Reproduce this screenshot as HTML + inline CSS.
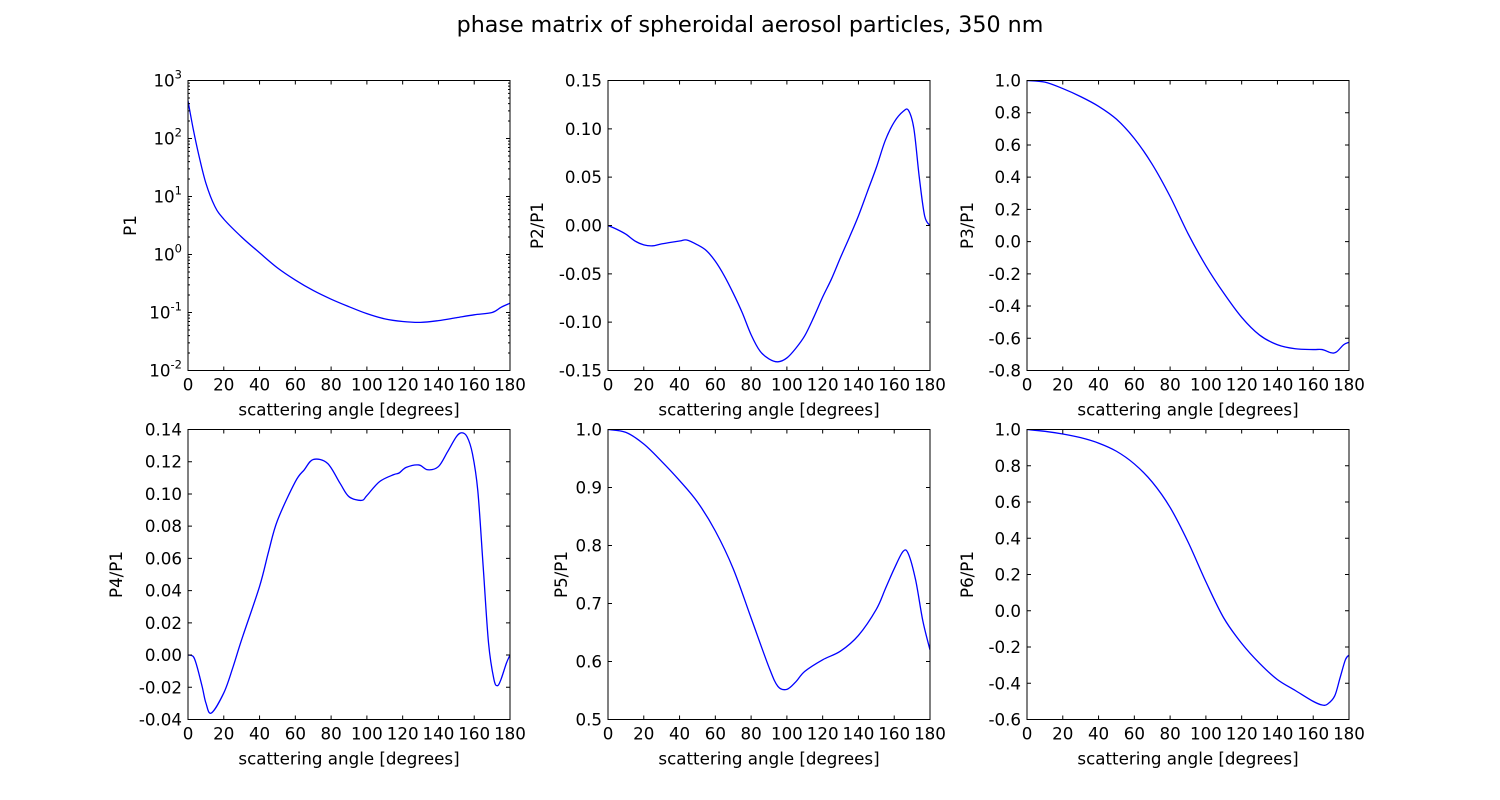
<!DOCTYPE html>
<html><head><meta charset="utf-8"><style>
body{margin:0;background:#fff;}
svg{display:block;font-family:"DejaVu Sans","Liberation Sans",sans-serif;}
</style></head><body>
<svg id="fig" width="1500" height="800" viewBox="0 0 1500 800">
<rect width="1500" height="800" fill="#fff"/>
<text x="750" y="32" text-anchor="middle" font-size="22.2" fill="#000">phase matrix of spheroidal aerosol particles, 350 nm</text>
</svg>
<script>
const angles1 = [0,3,6,10,15,20,30,40,50,60,70,80,90,100,110,120,130,140,150,160,170,175,180];
const p1Log = [2.65,2.15,1.72,1.23,0.83,0.61,0.30,0.03,-0.23,-0.44,-0.62,-0.77,-0.90,-1.02,-1.11,-1.155,-1.17,-1.14,-1.09,-1.04,-1.0,-0.91,-0.84];
const angles2 = [0,5,10,15,20,25,30,40,44,50,55,60,65,70,75,80,85,90,95,100,105,110,115,120,125,130,135,140,145,150,155,160,165,168,171,174,177,180];
const p2 = [0,-0.004,-0.009,-0.016,-0.020,-0.021,-0.019,-0.016,-0.015,-0.020,-0.026,-0.037,-0.052,-0.070,-0.090,-0.113,-0.130,-0.138,-0.141,-0.137,-0.127,-0.114,-0.095,-0.074,-0.055,-0.033,-0.012,0.010,0.035,0.060,0.088,0.107,0.118,0.119,0.100,0.050,0.010,0];
const angles3 = [0,10,20,30,40,50,60,70,80,90,100,110,120,130,140,150,160,165,170,173,177,180];
const p3 = [1.0,0.99,0.95,0.90,0.84,0.76,0.64,0.48,0.28,0.05,-0.15,-0.32,-0.47,-0.58,-0.64,-0.665,-0.67,-0.67,-0.69,-0.685,-0.64,-0.625];
const angles4 = [0,3,5,8,10,13,20,25,30,40,45,50,60,65,70,78,85,90,97,100,107,115,118,122,129,134,140,145,150,153,156,159,162,165,168,171,173,175,178,180];
const p4 = [0,-0.001,-0.007,-0.02,-0.0297,-0.036,-0.0235,-0.008,0.0096,0.0426,0.064,0.0835,0.1076,0.115,0.1214,0.119,0.1066,0.0983,0.096,0.099,0.1076,0.112,0.113,0.1165,0.118,0.115,0.117,0.126,0.1355,0.138,0.1355,0.125,0.102,0.055,0.0075,-0.015,-0.019,-0.015,-0.005,0];
const angles5 = [0,10,20,30,40,50,60,70,80,90,95,100,105,110,120,130,140,150,155,160,165,168,172,176,180];
const p5 = [1.0,0.995,0.975,0.945,0.912,0.875,0.825,0.76,0.675,0.59,0.557,0.552,0.565,0.583,0.603,0.618,0.645,0.69,0.725,0.76,0.79,0.785,0.74,0.67,0.62];
const angles6 = [0,10,20,30,40,50,60,70,80,90,100,110,120,130,140,150,160,165,168,172,175,178,180];
const p6 = [1.0,0.99,0.975,0.955,0.925,0.88,0.81,0.71,0.57,0.38,0.16,-0.04,-0.18,-0.29,-0.38,-0.44,-0.50,-0.52,-0.515,-0.47,-0.37,-0.27,-0.245];
const xTicks = [0,20,40,60,80,100,120,140,160,180];
const p1TickExp = [-2,-1,0,1,2,3];
const p2Ticks = [-0.15,-0.10,-0.05,0.00,0.05,0.10,0.15];
const p3Ticks = [-0.8,-0.6,-0.4,-0.2,0.0,0.2,0.4,0.6,0.8,1.0];
const p4Ticks = [-0.04,-0.02,0.00,0.02,0.04,0.06,0.08,0.10,0.12,0.14];
const p5Ticks = [0.5,0.6,0.7,0.8,0.9,1.0];
const p6Ticks = [-0.6,-0.4,-0.2,0.0,0.2,0.4,0.6,0.8,1.0];

const NS = "http://www.w3.org/2000/svg";
const svg = document.getElementById('fig');
function mk(tag, attrs, parent){const e=document.createElementNS(NS,tag);for(const k in attrs)e.setAttribute(k,attrs[k]);(parent||svg).appendChild(e);return e;}

const panels = [
 {key:'p1', label:'P1', x0:188, y0:80.5, xs:angles1, ys:p1Log, ymin:-2, ymax:3, ticks:p1TickExp, log:true, labx:136},
 {key:'p2', label:'P2/P1', x0:608, y0:80.5, xs:angles2, ys:p2, ymin:-0.15, ymax:0.15, ticks:p2Ticks, dec:2, labx:543},
 {key:'p3', label:'P3/P1', x0:1027, y0:80.5, xs:angles3, ys:p3, ymin:-0.8, ymax:1.0, ticks:p3Ticks, dec:1, labx:973},
 {key:'p4', label:'P4/P1', x0:188, y0:429.5, xs:angles4, ys:p4, ymin:-0.04, ymax:0.14, ticks:p4Ticks, dec:2, labx:122},
 {key:'p5', label:'P5/P1', x0:608, y0:429.5, xs:angles5, ys:p5, ymin:0.5, ymax:1.0, ticks:p5Ticks, dec:1, labx:567},
 {key:'p6', label:'P6/P1', x0:1027, y0:429.5, xs:angles6, ys:p6, ymin:-0.6, ymax:1.0, ticks:p6Ticks, dec:1, labx:973},
];
const W=322, H=290, FS=16.7;

panels.forEach(p=>{
  const g = mk('g',{});
  
  
  const sx = v => p.x0 + v/180*W;
  const sy = v => p.y0 + H - (v-p.ymin)/(p.ymax-p.ymin)*H;
  const pts = p.xs.map((x,i)=>[sx(x), sy(p.ys[i])]);
  let d = 'M'+pts[0][0].toFixed(2)+','+pts[0][1].toFixed(2);
  for(let i=0;i<pts.length-1;i++){
    const a=pts[Math.max(0,i-1)], b=pts[i], c=pts[i+1], e=pts[Math.min(pts.length-1,i+2)];
    const c1=[b[0]+(c[0]-a[0])/6, b[1]+(c[1]-a[1])/6], c2=[c[0]-(e[0]-b[0])/6, c[1]-(e[1]-b[1])/6];
    d += ' C'+c1.map(v=>v.toFixed(2))+' '+c2.map(v=>v.toFixed(2))+' '+c[0].toFixed(2)+','+c[1].toFixed(2);
  }
  const cp = mk('clipPath',{id:'clip-'+p.key},g); mk('rect',{x:p.x0,y:p.y0,width:W,height:H},cp);
  const line = mk('path',{d:d, fill:'none', stroke:'#0000ff', 'stroke-width':1.3, 'clip-path':'url(#clip-'+p.key+')'},g);
  
  
  let td='';
  xTicks.forEach(t=>{const x=sx(t); td+=`M${x},${p.y0+H}v-4M${x},${p.y0}v4`;
    const tl=mk('text',{x:x,y:p.y0+H+20,'text-anchor':'middle','font-size':FS},g); tl.textContent=t;
    
    
  });
  p.ticks.forEach(t=>{const y=sy(t); td+=`M${p.x0},${y}h4M${p.x0+W},${y}h-4`;
    const tl=mk('text',{x:p.x0-6,y:y+6,'text-anchor':'end','font-size':FS},g);
    if(p.log){ tl.textContent='10'; const s=mk('tspan',{'font-size':11.5,dy:-8},tl); s.textContent=String(t); }
    else tl.textContent=t.toFixed(p.dec);
    
    
  });
  if(p.log){ for(let e=p.ymin;e<p.ymax;e++) for(let m=2;m<10;m++){const y=sy(e+Math.log10(m)); td+=`M${p.x0},${y}h2M${p.x0+W},${y}h-2`;} }
  mk('path',{d:td,stroke:'#000','stroke-width':1,fill:'none'},g);
  const fr = mk('rect',{x:p.x0,y:p.y0,width:W,height:H,fill:'none',stroke:'#000','stroke-width':1},g);
  
  
  const xl = mk('text',{x:p.x0+W/2,y:p.y0+H+45,'text-anchor':'middle','font-size':FS},g);
  xl.textContent='scattering angle [degrees]';
  
  
  const yc = p.y0+H/2;
  const yl = mk('text',{x:p.labx,y:yc,'text-anchor':'middle','font-size':FS,transform:`rotate(-90 ${p.labx} ${yc})`},g);
  yl.textContent=p.label;
  
  
});
</script>
</body></html>
